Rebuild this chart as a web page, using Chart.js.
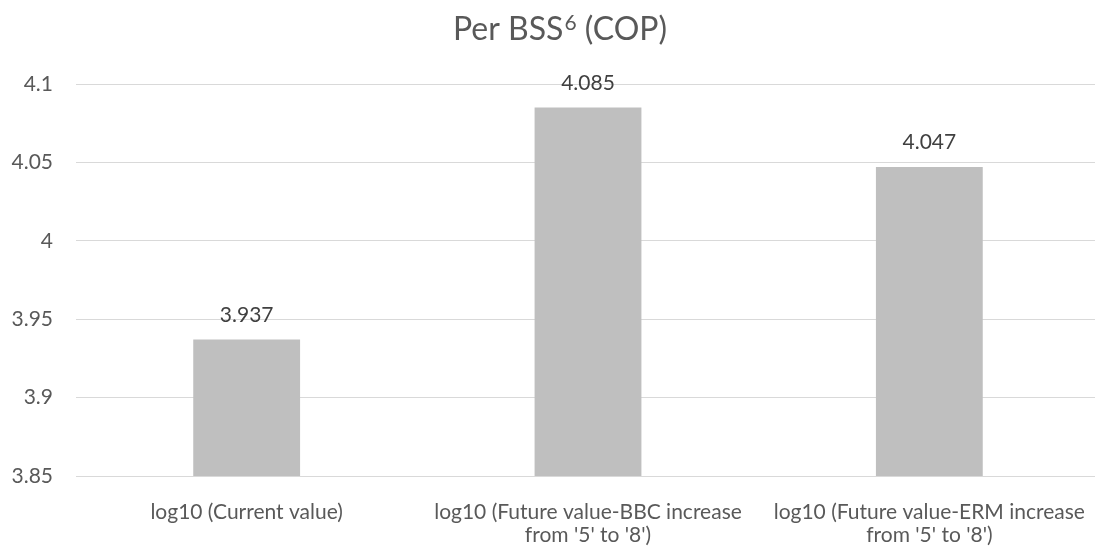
<!DOCTYPE html>
<html>
<head>
<meta charset="utf-8">
<script src="https://cdn.jsdelivr.net/npm/chart.js@4"></script>
<style>
  html, body { margin: 0; padding: 0; background: #ffffff; overflow: hidden; }
  #wrap { width: 1100px; height: 547px; }
</style>
</head>
<body>
<div id="wrap"><canvas id="c" width="1100" height="547"></canvas></div>
<script>
const categories = [
  "log10 (Current value)",
  ["log10 (Future value-BBC increase", "from '5' to '8')"],
  ["log10 (Future value-ERM increase", "from '5' to '8')"]
];
const values = [3.937, 4.085, 4.047];
const valueLabels = ["3.937", "4.085", "4.047"];
const yTicks = [3.85, 3.9, 3.95, 4, 4.05, 4.1];
// title pieces: main text, superscript footnote mark, trailing text
const titleParts = ["Per BSS", "6", " (COP)"];

const FONT = "Lato, 'Open Sans', sans-serif";

// writes each bar's value just above its top
const barValueLabels = {
  id: 'barValueLabels',
  afterDatasetsDraw(chart) {
    const ctx = chart.ctx;
    const meta = chart.getDatasetMeta(0);
    ctx.save();
    ctx.font = "21px " + FONT;
    ctx.fillStyle = "#404040";
    ctx.textAlign = "center";
    ctx.textBaseline = "alphabetic";
    meta.data.forEach((bar, i) => {
      ctx.fillText(valueLabels[i], bar.x, bar.y - 18);
    });
    ctx.restore();
  }
};

// chart title with a true superscript, centred over the chart frame
const superTitle = {
  id: 'superTitle',
  afterDraw(chart) {
    const ctx = chart.ctx;
    const mainFont = "32px " + FONT;
    const supFont = "21px " + FONT;
    ctx.save();
    ctx.fillStyle = "#595959";
    ctx.textBaseline = "alphabetic";
    ctx.textAlign = "left";
    ctx.font = mainFont;
    const w0 = ctx.measureText(titleParts[0]).width;
    const w2 = ctx.measureText(titleParts[2]).width;
    ctx.font = supFont;
    const w1 = ctx.measureText(titleParts[1]).width + 1;
    const total = w0 + w1 + w2;
    const cx = (chart.width + 20) / 2;
    const baseY = 40;
    let x = cx - total / 2;
    ctx.font = mainFont;
    ctx.fillText(titleParts[0], x, baseY);
    x += w0 + 1;
    ctx.font = supFont;
    ctx.fillText(titleParts[1], x, baseY - 10);
    x += w1 - 1;
    ctx.font = mainFont;
    ctx.fillText(titleParts[2], x, baseY);
    ctx.restore();
  }
};

new Chart(document.getElementById('c'), {
  type: 'bar',
  data: {
    labels: categories,
    datasets: [{
      data: values,
      backgroundColor: '#bfbfbf',
      borderWidth: 0,
      categoryPercentage: 1,
      barPercentage: 0.313
    }]
  },
  options: {
    responsive: false,
    animation: false,
    layout: { padding: { left: 0, right: 0, top: 84, bottom: 0 } },
    plugins: {
      legend: { display: false },
      tooltip: { enabled: false },
      title: { display: false }
    },
    scales: {
      x: {
        grid: { display: false, drawTicks: false },
        border: { display: true, color: '#d9d9d9', width: 1 },
        ticks: {
          color: '#595959',
          font: { family: FONT, size: 21, lineHeight: 1.12 },
          padding: 24,
          maxRotation: 0,
          autoSkip: false
        },
        afterFit(scale) {
          scale.height = 71;
          scale.paddingLeft = 0;
          scale.paddingRight = 0;
        }
      },
      y: {
        min: 3.85,
        max: 4.1,
        afterBuildTicks(scale) { scale.ticks = yTicks.map(v => ({ value: v })); },
        grid: { color: '#d9d9d9', lineWidth: 1, drawTicks: false },
        border: { display: false },
        ticks: {
          color: '#595959',
          font: { family: FONT, size: 21 },
          padding: 23,
          callback: (v) => String(Number(v.toFixed(2)))
        },
        afterFit(scale) {
          scale.width = 76;
          scale.paddingTop = 0;
          scale.paddingBottom = 0;
        }
      }
    }
  },
  plugins: [barValueLabels, superTitle]
});
</script>
</body>
</html>
